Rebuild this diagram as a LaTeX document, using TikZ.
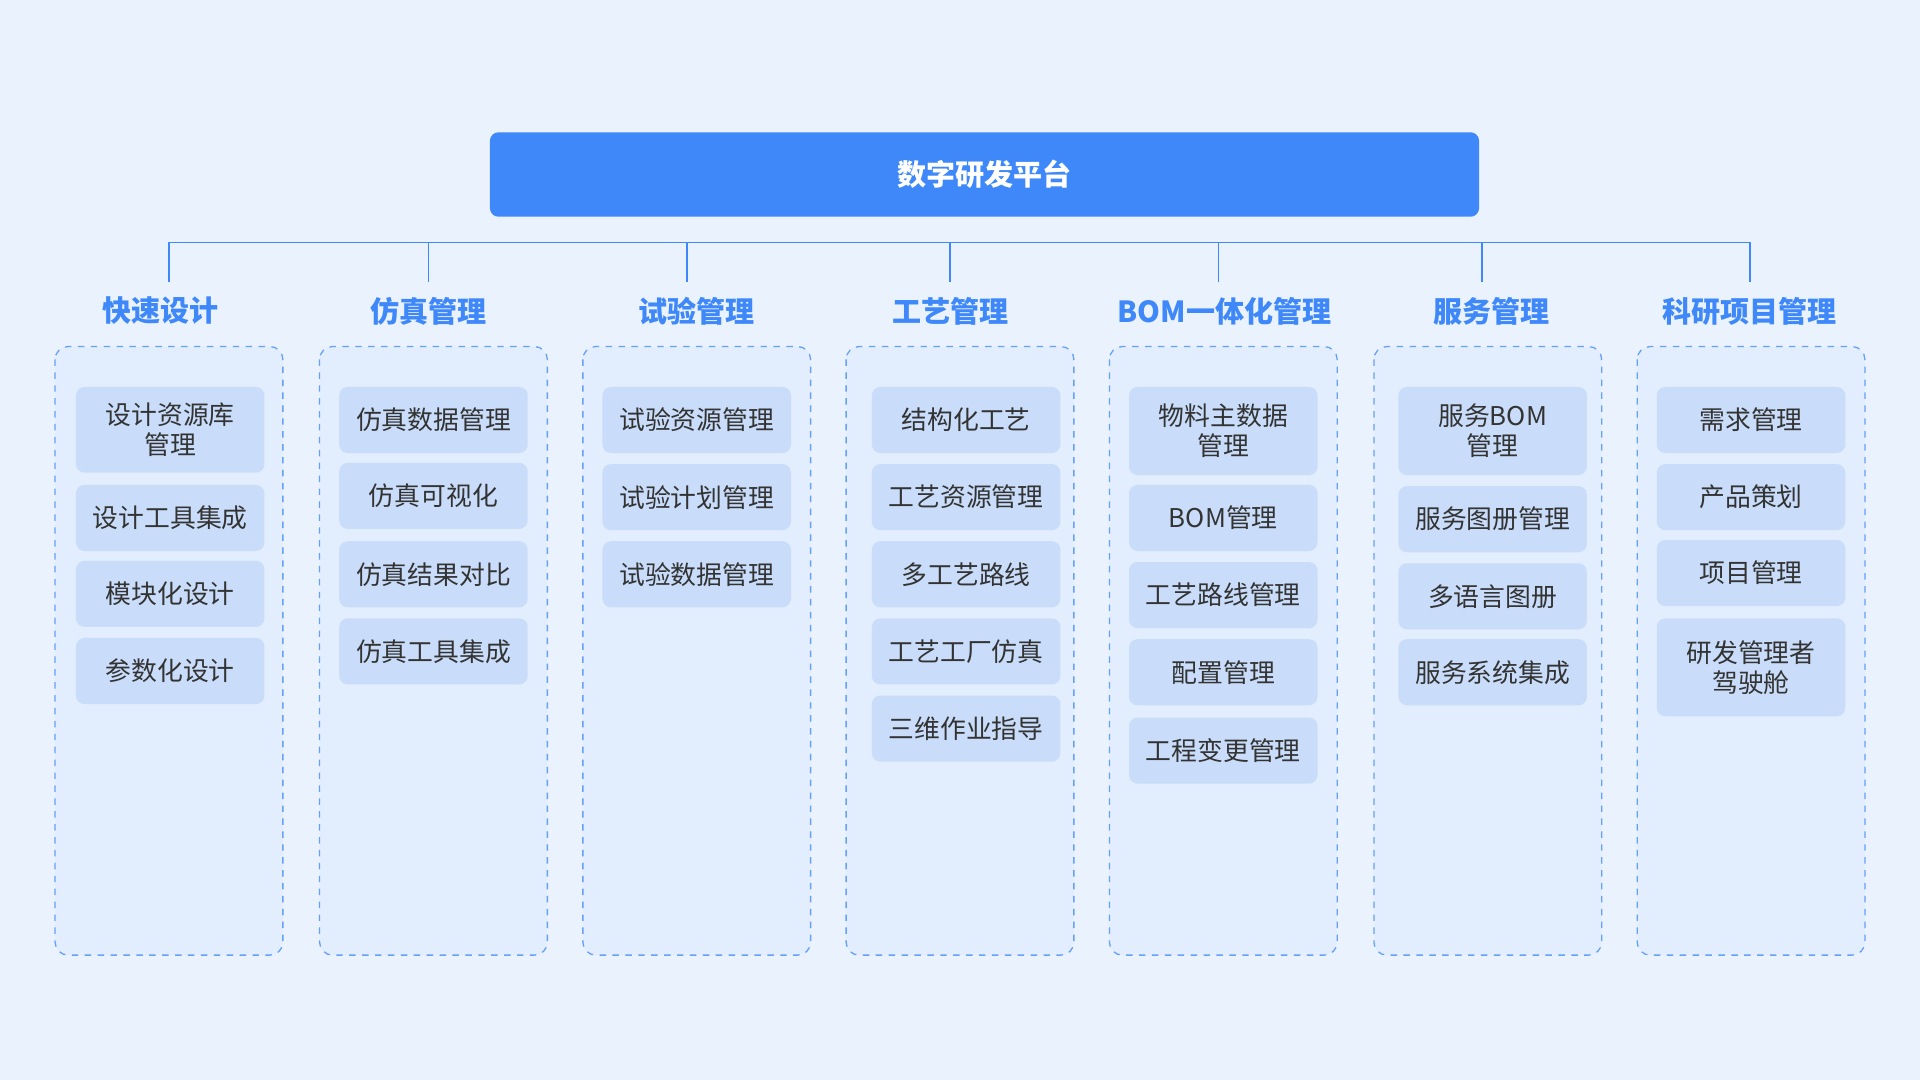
\documentclass[tikz,border=0pt]{standalone}
\usepackage{fontspec}
\setmainfont{Noto Sans CJK SC}
\usetikzlibrary{positioning}
\definecolor{bg}{HTML}{EAF2FD}
\definecolor{panel}{HTML}{E2EDFD}
\definecolor{blue}{HTML}{3F88FA}
\definecolor{item}{HTML}{C9DDFA}
\definecolor{txt}{HTML}{333333}
\tikzset{
 topbox/.style={fill=blue,rounded corners=4pt,text=white,font=\fontsize{13.5}{16}\selectfont\bfseries},
 ttl/.style={text=blue,font=\fontsize{13.5}{16}\selectfont\bfseries},
 pnl/.style={draw=blue!80,dashed,fill=panel,rounded corners=6pt,line width=0.6pt},
 itm/.style={fill=item,rounded corners=4pt,text=txt,align=center,font=\fontsize{12}{14}\selectfont,inner sep=0pt},
 conn/.style={draw=blue,line width=0.8pt}
}
\newcommand{\itembox}[5]{% name, x-left, y-top, y-bot, text
 \node[itm,minimum width=3.08cm,minimum height={(#4-#3)*0.02cm}] (#1) at ({#2+77},{(#3+#4)/2}) {#5};}
\begin{document}
\begin{tikzpicture}[x=0.02cm,y=-0.02cm]
\fill[bg] (0,0) rectangle (1568,882);
\node[topbox,minimum width=16.16cm,minimum height=1.38cm] (top) at (804,142.5) {数字研发平台};
\coordinate (hl) at (138,198); \coordinate (hr) at (1429,198);
\draw[conn] (hl) -- (hr);
\foreach \n/\cx/\tx/\pl/\t in {a/138/131/45/快速设计,b/350/350/261/仿真管理,c/561/569/476/试验管理,d/776/776/691/工艺管理,e/995/1000/906/BOM一体化管理,f/1210/1218/1122/服务管理,g/1429/1429/1337/科研项目管理}{
 \coordinate (v\n) at (\cx,198);
 \coordinate (w\n) at (\cx,230);
 \draw[conn] (v\n) -- (w\n);
 \node[ttl] (t\n) at (\tx,254) {\t};
 \draw[pnl] (\pl,283) rectangle ++(186,497);
}
\itembox{a1}{62}{316}{386}{设计资源库\\管理}
\itembox{a2}{62}{396}{450}{设计工具集成}
\itembox{a3}{62}{458}{512}{模块化设计}
\itembox{a4}{62}{521}{575}{参数化设计}
\itembox{b1}{277}{316}{370}{仿真数据管理}
\itembox{b2}{277}{378}{432}{仿真可视化}
\itembox{b3}{277}{442}{496}{仿真结果对比}
\itembox{b4}{277}{505}{559}{仿真工具集成}
\itembox{c1}{492}{316}{370}{试验资源管理}
\itembox{c2}{492}{379}{433}{试验计划管理}
\itembox{c3}{492}{442}{496}{试验数据管理}
\itembox{d1}{712}{316}{370}{结构化工艺}
\itembox{d2}{712}{379}{433}{工艺资源管理}
\itembox{d3}{712}{442}{496}{多工艺路线}
\itembox{d4}{712}{505}{559}{工艺工厂仿真}
\itembox{d5}{712}{568}{622}{三维作业指导}
\itembox{e1}{922}{316}{388}{物料主数据\\管理}
\itembox{e2}{922}{396}{450}{BOM管理}
\itembox{e3}{922}{459}{513}{工艺路线管理}
\itembox{e4}{922}{522}{576}{配置管理}
\itembox{e5}{922}{586}{640}{工程变更管理}
\itembox{f1}{1142}{316}{388}{服务BOM\\管理}
\itembox{f2}{1142}{397}{451}{服务图册管理}
\itembox{f3}{1142}{460}{514}{多语言图册}
\itembox{f4}{1142}{522}{576}{服务系统集成}
\itembox{g1}{1353}{316}{370}{需求管理}
\itembox{g2}{1353}{379}{433}{产品策划}
\itembox{g3}{1353}{441}{495}{项目管理}
\itembox{g4}{1353}{505}{585}{研发管理者\\驾驶舱}
\end{tikzpicture}
\end{document}
